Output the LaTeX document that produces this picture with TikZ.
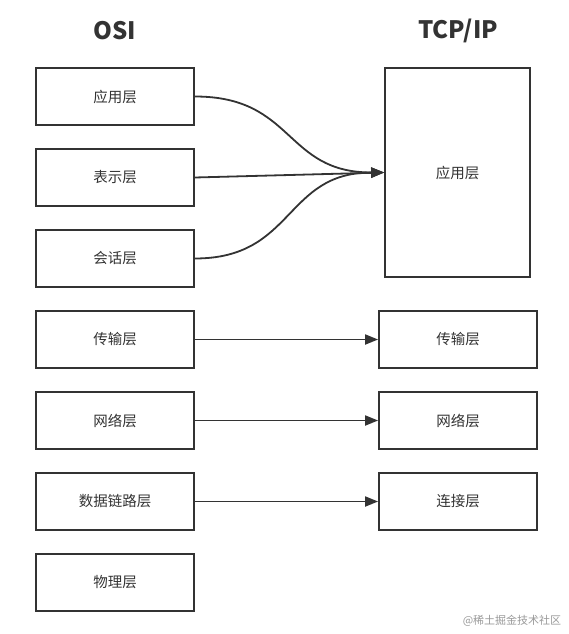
\documentclass[tikz,border=0pt]{standalone}
\usepackage{fontspec}
\setmainfont{Noto Sans CJK SC}
\usetikzlibrary{arrows.meta,positioning}

\definecolor{linegray}{HTML}{333333}

\begin{document}
\begin{tikzpicture}[x=1pt,y=-1pt,
  layer/.style={draw=linegray,line width=1.8pt,minimum width=158pt,minimum height=57pt,inner sep=0pt,font=\fontsize{14.5}{16}\selectfont,text=linegray},
  link/.style={draw=linegray,line width=1.8pt,-{Triangle[length=13pt,width=10pt]}},
  title/.style={font=\bfseries\fontsize{24}{28}\selectfont,text=linegray}]

\useasboundingbox (0,0) rectangle (569,634);

% column titles
\node[title] (osi) at (115,31) {OSI};
\node[title] (tcpip) at (458,31) {TCP/IP};

% the seven OSI layers
\foreach \name [count=\ni] in {应用层,表示层,会话层,传输层,网络层,数据链路层,物理层}
  \node[layer] (osi\ni) at (115,{96.5+81*(\ni-1)}) {\name};

% the TCP/IP layers
\node[layer,minimum width=145pt,minimum height=209pt] (app) at (457.5,172.5) {应用层};
\foreach \name [count=\ni] in {传输层,网络层,连接层}
  \node[layer] (tcp\ni) at (458,{339.5+81*(\ni-1)}) {\name};

% the upper three go into one
\draw[link] (osi1.east) .. controls +(100,0) and +(-100,0) .. (app.west);
\draw[link] (osi2.east) -- (app.west);
\draw[link] (osi3.east) .. controls +(100,0) and +(-100,0) .. (app.west);

\foreach \i in {1,2,3}
  \draw[link] (osi\the\numexpr\i+3\relax.east) -- (tcp\i.west);

\node[font=\fontsize{11}{12}\selectfont,text=black!40] (mark) at (512,621) {@稀土掘金技术社区};
\end{tikzpicture}
\end{document}
